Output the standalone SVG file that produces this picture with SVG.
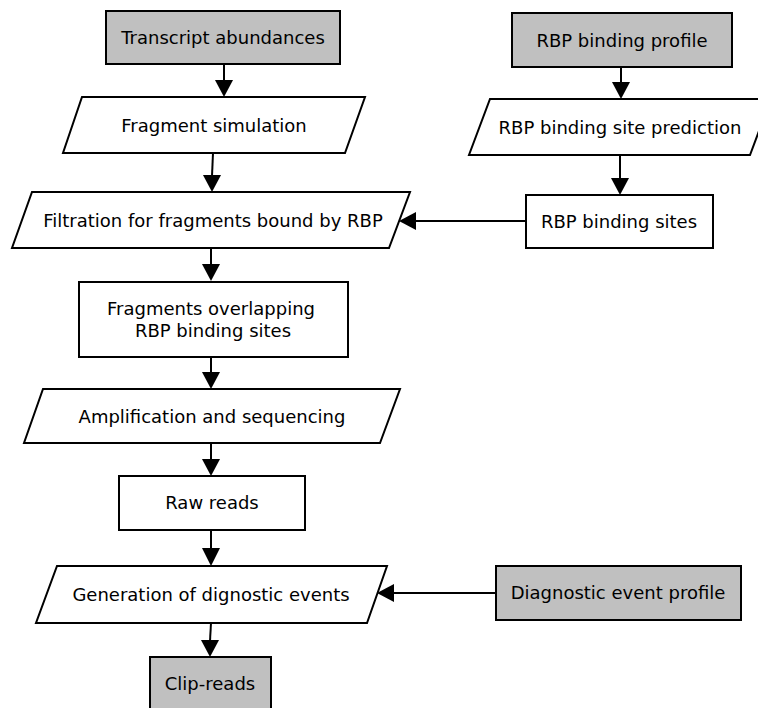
<svg xmlns="http://www.w3.org/2000/svg" width="758" height="708" viewBox="0 0 758 708">
<style>
.box{fill:#fff;stroke:#000;stroke-width:2}
.src{fill:#c0c0c0;stroke:#000;stroke-width:2}
.lbl{font-family:"DejaVu Sans",sans-serif;font-size:18px;fill:#000;text-anchor:middle;dominant-baseline:central}
.ln{stroke:#000;stroke-width:2;fill:none}
.hd{fill:#000}
</style>
<rect width="758" height="708" fill="#fff"/>
<g id="connectors">
<line class="ln" x1="224" y1="64" x2="224" y2="81"/>
<path class="hd" d="M215,80 L233,80 L224,97 Z"/>
<line class="ln" x1="213" y1="153" x2="212" y2="176"/>
<path class="hd" d="M203,175 L221,175 L212,192 Z"/>
<line class="ln" x1="211" y1="248" x2="211" y2="265"/>
<path class="hd" d="M202,264 L220,264 L211,281 Z"/>
<line class="ln" x1="211" y1="357" x2="211" y2="373"/>
<path class="hd" d="M202,372 L220,372 L211,389 Z"/>
<line class="ln" x1="211" y1="443" x2="211" y2="460"/>
<path class="hd" d="M202,459 L220,459 L211,476 Z"/>
<line class="ln" x1="211" y1="530" x2="211" y2="549"/>
<path class="hd" d="M202,548 L220,548 L211,566 Z"/>
<line class="ln" x1="211" y1="623" x2="210" y2="641"/>
<path class="hd" d="M201,640 L219,640 L210,657 Z"/>
<line class="ln" x1="621" y1="67" x2="621" y2="83"/>
<path class="hd" d="M612,82 L630,82 L621,99 Z"/>
<line class="ln" x1="620" y1="155" x2="620" y2="179"/>
<path class="hd" d="M611,178 L629,178 L620,195 Z"/>
<line class="ln" x1="526" y1="221" x2="415" y2="221"/>
<path class="hd" d="M416,212 L416,230 L399,221 Z"/>
<line class="ln" x1="496" y1="593" x2="393" y2="593"/>
<path class="hd" d="M394,584 L394,602 L377,593 Z"/>
</g>
<g id="n1"><rect class="src" x="106" y="11" width="234" height="53"/><text class="lbl" x="223" y="37">Transcript abundances</text></g>
<g id="n2"><polygon class="box" points="82,97 365,97 345,153 63,153"/><text class="lbl" x="214" y="125">Fragment simulation</text></g>
<g id="n3"><polygon class="box" points="32,192 410,192 389,248 12,248"/><text class="lbl" x="213" y="220">Filtration for fragments bound by RBP</text></g>
<g id="n4"><rect class="box" x="79" y="282" width="269" height="75"/><text class="lbl" x="211" y="308">Fragments overlapping</text><text class="lbl" x="213" y="330">RBP binding sites</text></g>
<g id="n5"><polygon class="box" points="43,389 400,389 380,443 24,443"/><text class="lbl" x="212" y="416">Amplification and sequencing</text></g>
<g id="n6"><rect class="box" x="119" y="476" width="186" height="54"/><text class="lbl" x="212" y="502">Raw reads</text></g>
<g id="n7"><polygon class="box" points="57,566 387,566 367,623 36,623"/><text class="lbl" x="211" y="594">Generation of dignostic events</text></g>
<g id="n8"><rect class="src" x="150" y="657" width="121" height="56"/><text class="lbl" x="210" y="683">Clip-reads</text></g>
<g id="n9"><rect class="src" x="512" y="13" width="220" height="54"/><text class="lbl" x="622" y="40">RBP binding profile</text></g>
<g id="n10"><polygon class="box" points="490,99 771,99 750,155 469,155"/><text class="lbl" x="620" y="127">RBP binding site prediction</text></g>
<g id="n11"><rect class="box" x="526" y="195" width="187" height="53"/><text class="lbl" x="619" y="221">RBP binding sites</text></g>
<g id="n12"><rect class="src" x="496" y="566" width="245" height="54"/><text class="lbl" x="618" y="592">Diagnostic event profile</text></g>
</svg>
